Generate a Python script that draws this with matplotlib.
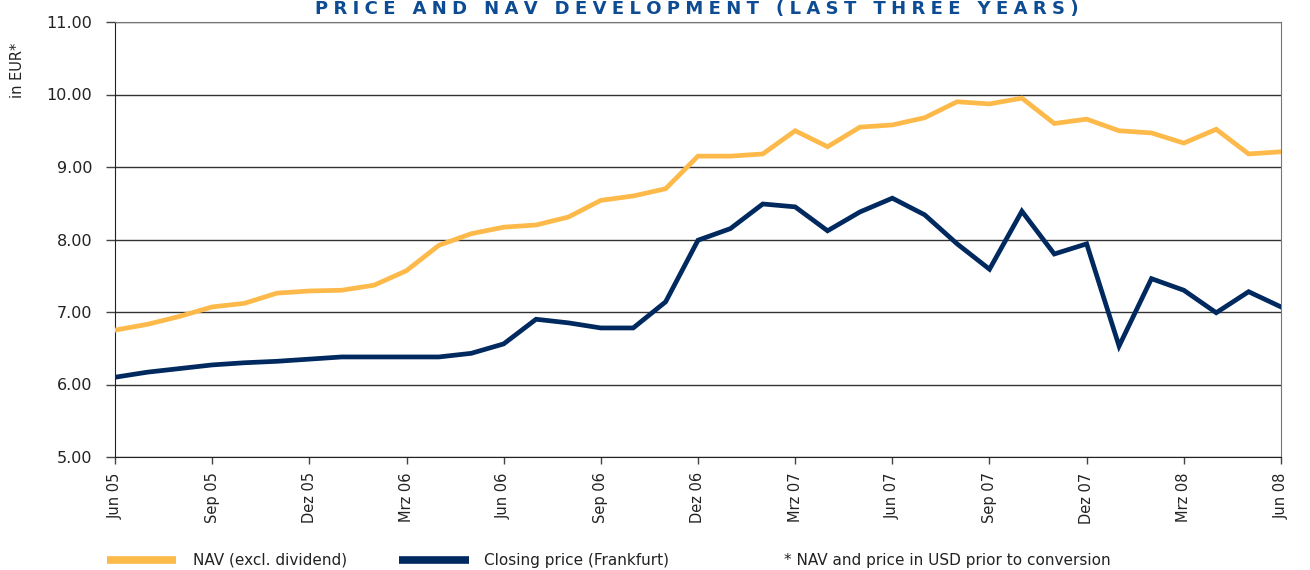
import numpy as np
import matplotlib.pyplot as plt
from matplotlib.lines import Line2D

# monthly values, Jun 05 .. Jun 08
months = np.arange(37)
tick_pos = np.arange(0, 37, 3)
tick_labels = ['Jun 05', 'Sep 05', 'Dez 05', 'Mrz 06', 'Jun 06', 'Sep 06', 'Dez 06',
               'Mrz 07', 'Jun 07', 'Sep 07', 'Dez 07', 'Mrz 08', 'Jun 08']

nav = [6.75, 6.83, 6.94, 7.07, 7.12, 7.26, 7.29, 7.30, 7.37, 7.57, 7.92, 8.08,
       8.17, 8.20, 8.31, 8.54, 8.60, 8.70, 9.15, 9.15, 9.18, 9.50, 9.28, 9.55,
       9.58, 9.68, 9.90, 9.87, 9.95, 9.60, 9.66, 9.50, 9.47, 9.33, 9.52, 9.18, 9.21]
price = [6.10, 6.17, 6.22, 6.27, 6.30, 6.32, 6.35, 6.38, 6.38, 6.38, 6.38, 6.43,
         6.56, 6.90, 6.85, 6.78, 6.78, 7.14, 7.99, 8.15, 8.49, 8.45, 8.12, 8.38,
         8.57, 8.34, 7.94, 7.59, 8.39, 7.80, 7.94, 6.53, 7.46, 7.30, 6.99, 7.28, 7.07]

orange = '#FDB94A'
navy = '#00295F'
title_col = '#0D4C92'
W, H = 1310.0, 570.0

fig = plt.figure(figsize=(13.1, 5.7), dpi=100)
ax = fig.add_axes([115 / W, 1 - 457 / H, 1166 / W, 435 / H])

ax.plot(months, nav, color=orange, lw=3.4, solid_joinstyle='miter', zorder=3)
ax.plot(months, price, color=navy, lw=3.4, solid_joinstyle='miter', zorder=3)

ax.set_xlim(0, 36)
ax.set_ylim(5, 11)
yt = np.arange(5, 11.01, 1)
ax.set_yticks(yt)
ax.set_yticklabels(['%.2f' % v for v in yt], fontsize=11.5, color='#222222')
ax.set_xticks(tick_pos)
ax.set_xticklabels(tick_labels, rotation=90, fontsize=10.5, color='#222222')
ax.tick_params(axis='both', direction='out', width=1, color='#444444')
ax.tick_params(axis='y', length=6.5, pad=10)
ax.tick_params(axis='x', length=5, pad=6)

ax.grid(axis='y', color='#333333', lw=1)
ax.set_axisbelow(True)
for s in ['left', 'bottom']:
    ax.spines[s].set_color('#222222')
ax.spines['top'].set_color('#777777')
ax.spines['right'].set_color('#777777')

fig.text(18 / W, 1 - 70 / H, 'in EUR*', rotation=90, ha='center', va='center',
         fontsize=10.5, color='#222222')

# letter-spaced title
title = 'PRICE AND NAV DEVELOPMENT (LAST THREE YEARS)'
spaced = '\u2009\u200a'.join(title)
fig.text(697 / W, 1 - 9 / H, spaced, ha='center', va='center', fontsize=13,
         fontweight='bold', color=title_col)

# legend row
ly = 1 - 560 / H
fig.add_artist(Line2D([107 / W, 176 / W], [ly, ly], color=orange, lw=5.5,
                      transform=fig.transFigure, solid_capstyle='butt'))
fig.add_artist(Line2D([399 / W, 469 / W], [ly, ly], color=navy, lw=5.5,
                      transform=fig.transFigure, solid_capstyle='butt'))
fig.text(193 / W, ly, 'NAV (excl. dividend)', ha='left', va='center', fontsize=11, color='#222222')
fig.text(484 / W, ly, 'Closing price (Frankfurt)', ha='left', va='center', fontsize=11, color='#222222')
fig.text(784 / W, ly, '* NAV and price in USD prior to conversion', ha='left', va='center',
         fontsize=11, color='#222222')

fig.savefig('out.png', dpi=100)
